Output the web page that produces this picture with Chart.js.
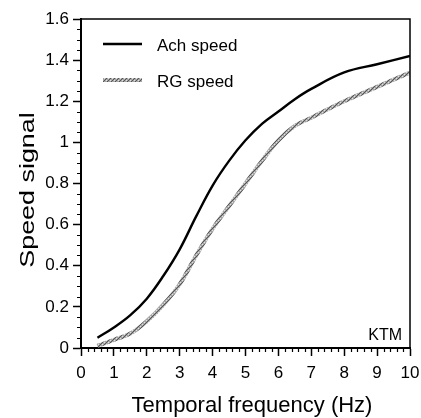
<!DOCTYPE html>
<html>
<head>
<meta charset="utf-8">
<script src="https://cdn.jsdelivr.net/npm/chart.js@4.4.0/dist/chart.umd.min.js"></script>
<style>
  html, body { margin: 0; padding: 0; background: #fff; }
</style>
</head>
<body>
<canvas id="speedChart" width="421" height="418"></canvas>
<script>
// values
const freqs    = [0.5, 1, 1.5, 2, 2.5, 3, 3.5, 4, 4.5, 5, 5.5, 6, 6.5, 7, 8, 9, 10];
const achSpeed = [0.05, 0.10, 0.16, 0.24, 0.35, 0.48, 0.64, 0.79, 0.91, 1.01, 1.09, 1.15, 1.21, 1.26, 1.34, 1.38, 1.42];
const rgSpeed  = [0.01, 0.04, 0.07, 0.13, 0.21, 0.31, 0.45, 0.58, 0.69, 0.80, 0.91, 1.01, 1.08, 1.12, 1.20, 1.27, 1.34];
const xTicks = [0, 1, 2, 3, 4, 5, 6, 7, 8, 9, 10];
const yTicks = [0, 0.2, 0.4, 0.6, 0.8, 1, 1.2, 1.4, 1.6];
const seriesNames = ["Ach speed", "RG speed"];

const FONT = "'Liberation Sans', Arial, Helvetica, sans-serif";
const canvas = document.getElementById("speedChart");
const ctx = canvas.getContext("2d");

// grey speckled texture for the RG curve
function makeTexture() {
    const c = document.createElement("canvas");
    c.width = 4;
    c.height = 4;
    const g = c.getContext("2d");
    g.fillStyle = "#a4a4a4";
    g.fillRect(0, 0, 4, 4);
    g.fillStyle = "#555";
    g.fillRect(0, 0, 1, 1);
    g.fillRect(2, 2, 1, 1);
    g.fillRect(1, 3, 1, 1);
    g.fillRect(3, 1, 1, 1);
    g.fillStyle = "#e2e2e2";
    g.fillRect(2, 0, 1, 1);
    g.fillRect(0, 2, 1, 1);
    return ctx.createPattern(c, "repeat");
}
const rgTexture = makeTexture();

const extras = {
    id: "extras",
    afterDraw(chart) {
        const c = chart.ctx;
        const area = chart.chartArea;
        const xs = chart.scales.x;
        const ys = chart.scales.y;
        c.save();

        // top and right frame
        c.strokeStyle = "#000";
        c.lineWidth = 1.5;
        c.beginPath();
        c.moveTo(area.left, area.top);
        c.lineTo(area.right, area.top);
        c.lineTo(area.right, area.bottom);
        c.stroke();

        // minor ticks
        c.lineWidth = 1.2;
        c.beginPath();
        for (let i = 1; i < 32; i++) {
            if (i % 4 === 0) continue;
            const y = Math.round(ys.getPixelForValue(i * 0.05)) + 0.5;
            c.moveTo(area.left - 4, y);
            c.lineTo(area.left, y);
        }
        for (let i = 1; i < 50; i++) {
            if (i % 5 === 0) continue;
            const x = Math.round(xs.getPixelForValue(i * 0.2)) + 0.5;
            c.moveTo(x, area.bottom);
            c.lineTo(x, area.bottom + 4);
        }
        c.stroke();

        // legend inside plot
        c.lineWidth = 2.4;
        c.strokeStyle = "#000";
        c.beginPath();
        c.moveTo(103, 44);
        c.lineTo(142, 44);
        c.stroke();
        c.lineWidth = 4;
        c.strokeStyle = rgTexture;
        c.beginPath();
        c.moveTo(103, 80);
        c.lineTo(142, 80);
        c.stroke();
        c.fillStyle = "#000";
        c.font = "17px " + FONT;
        c.textAlign = "left";
        c.textBaseline = "alphabetic";
        c.fillText(seriesNames[0], 157, 51);
        c.fillText(seriesNames[1], 157, 87);

        // panel label
        c.font = "16px " + FONT;
        c.textAlign = "right";
        c.fillText("KTM", 402, 340);

        // axis titles
        c.font = "22px " + FONT;
        c.textAlign = "center";
        c.fillText("Temporal frequency (Hz)", 252, 412);

        c.translate(28, 190);
        c.rotate(-Math.PI / 2);
        c.scale(1.28, 1);
        c.font = "21px " + FONT;
        c.textBaseline = "middle";
        c.fillText("Speed signal", 0, 0);
        c.restore();
    }
};

new Chart(ctx, {
    type: "line",
    data: {
        datasets: [
            {
                label: seriesNames[0],
                data: freqs.map((f, i) => ({ x: f, y: achSpeed[i] })),
                borderColor: "#000",
                borderWidth: 2.4,
                pointRadius: 0,
                tension: 0.4
            },
            {
                label: seriesNames[1],
                data: freqs.map((f, i) => ({ x: f, y: rgSpeed[i] })),
                borderColor: rgTexture,
                borderWidth: 4,
                pointRadius: 0,
                tension: 0.4
            }
        ]
    },
    options: {
        responsive: false,
        animation: false,
        devicePixelRatio: 1,
        layout: { padding: { top: 19, right: 11, bottom: 0, left: 0 } },
        plugins: {
            legend: { display: false },
            tooltip: { enabled: false }
        },
        scales: {
            x: {
                type: "linear",
                min: 0,
                max: 10,
                afterBuildTicks: s => { s.ticks = xTicks.map(v => ({ value: v })); },
                afterFit: s => {
                    s.height = 70;
                    s.paddingLeft = 0;
                    s.paddingRight = 0;
                },
                ticks: {
                    color: "#000",
                    font: { family: FONT, size: 17 },
                    padding: 7,
                    maxRotation: 0,
                    callback: v => String(v)
                },
                grid: {
                    drawOnChartArea: false,
                    tickLength: 8,
                    tickWidth: 1.5,
                    tickColor: "#000"
                },
                border: { color: "#000", width: 2 }
            },
            y: {
                min: 0,
                max: 1.6,
                afterBuildTicks: s => { s.ticks = yTicks.map(v => ({ value: v })); },
                afterFit: s => {
                    s.width = 81;
                    s.paddingTop = 0;
                    s.paddingBottom = 0;
                },
                ticks: {
                    color: "#000",
                    font: { family: FONT, size: 17 },
                    padding: 4,
                    callback: v => String(Number(v.toFixed(1)))
                },
                grid: {
                    drawOnChartArea: false,
                    tickLength: 8,
                    tickWidth: 1.5,
                    tickColor: "#000"
                },
                border: { color: "#000", width: 2 }
            }
        }
    },
    plugins: [extras]
});
</script>
</body>
</html>
